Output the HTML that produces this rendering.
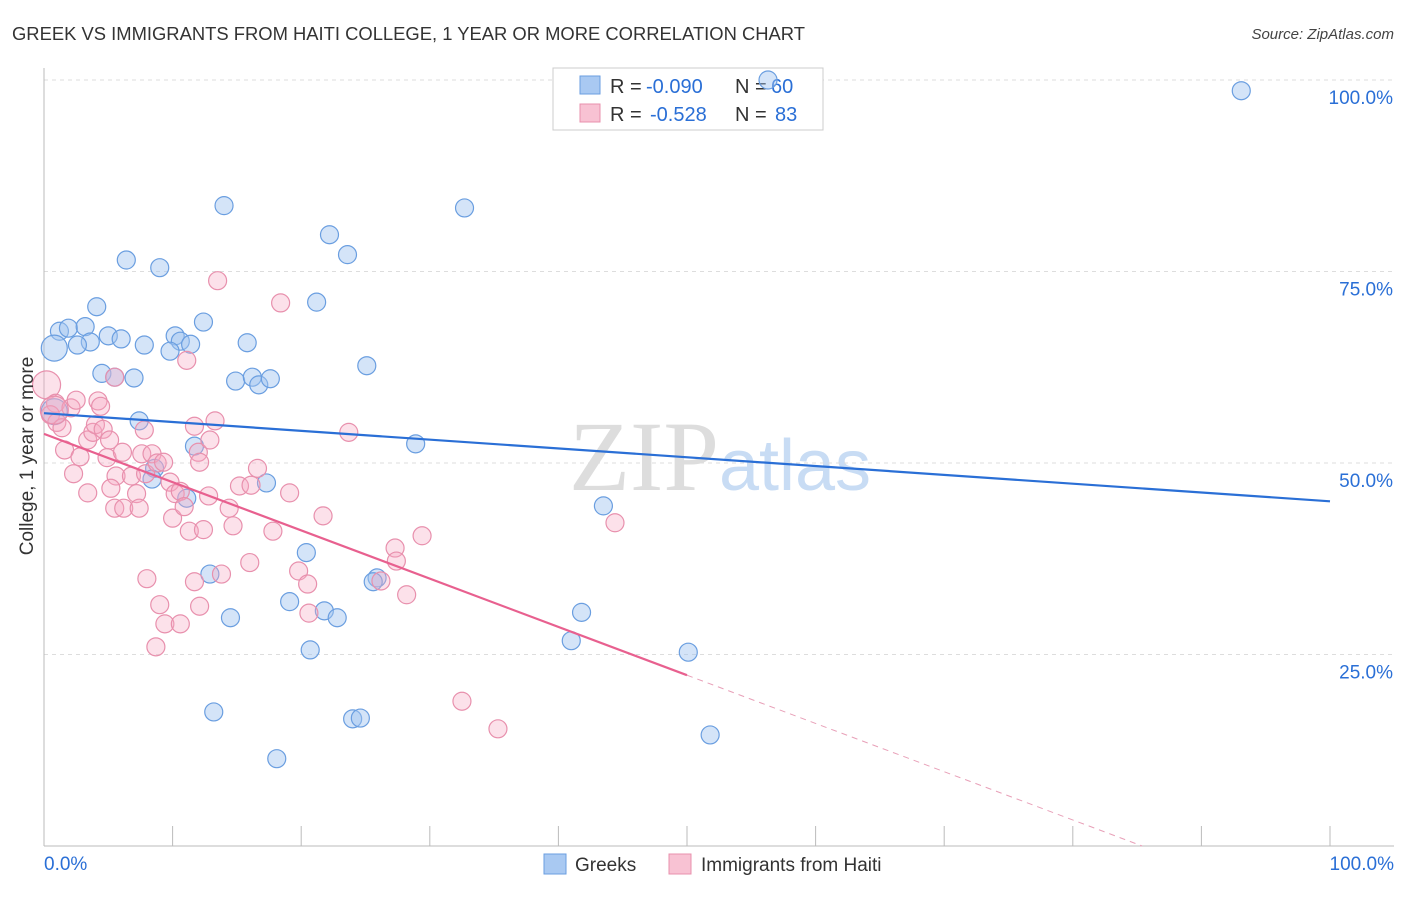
<!DOCTYPE html>
<html><head><meta charset="utf-8"><style>
body{margin:0;background:#fff;font-family:"Liberation Sans",sans-serif;}
</style></head><body>
<svg id="chart" width="1406" height="892" xmlns="http://www.w3.org/2000/svg" font-family="Liberation Sans, sans-serif">
<text x="12" y="40" font-size="18" fill="#333" textLength="793" lengthAdjust="spacingAndGlyphs">GREEK VS IMMIGRANTS FROM HAITI COLLEGE, 1 YEAR OR MORE CORRELATION CHART</text>
<text x="1394" y="39" font-size="15" fill="#444" text-anchor="end" font-style="italic">Source: ZipAtlas.com</text>
<text x="720" y="490" font-size="100" fill="#ddd" text-anchor="middle" font-family="Liberation Serif, serif">ZIP<tspan fill="#c8dcf4" font-family="Liberation Sans, sans-serif" font-size="72">atlas</tspan></text>
<g id="grid"></g><g id="axes"></g>
<g>
<rect x="553" y="68" width="270" height="62" fill="#fff" stroke="#ccc"/>
<rect x="580" y="76" width="20" height="18" fill="#a9c9f2" stroke="#6a9ee0"/>
<rect x="580" y="104" width="20" height="18" fill="#f8c2d3" stroke="#e890ad"/>
<text x="610" y="93" font-size="20" fill="#333">R =</text>
<text x="646" y="93" font-size="20" fill="#2a6fd6">-0.090</text>
<text x="735" y="93" font-size="20" fill="#333">N =</text>
<text x="771" y="93" font-size="20" fill="#2a6fd6">60</text>
<text x="610" y="121" font-size="20" fill="#333">R =</text>
<text x="650" y="121" font-size="20" fill="#2a6fd6">-0.528</text>
<text x="735" y="121" font-size="20" fill="#333">N =</text>
<text x="775" y="121" font-size="20" fill="#2a6fd6">83</text>
</g>
<g id="pts"></g><g id="lines"></g>
<text x="33" y="456" font-size="19" fill="#333" text-anchor="middle" transform="rotate(-90 33 456)">College, 1 year or more</text>
<g>
<rect x="544" y="854" width="22" height="20" fill="#a9c9f2" stroke="#6a9ee0"/>
<text x="575" y="871" font-size="19" fill="#333">Greeks</text>
<rect x="669" y="854" width="22" height="20" fill="#f8c2d3" stroke="#e890ad"/>
<text x="701" y="871" font-size="19" fill="#333">Immigrants from Haiti</text>
</g>
</svg>
<script>
const blueX=[56.3,93.1,14.0,32.7,22.2,23.6,6.4,9.0,4.1,21.2,12.4,1.2,1.9,3.2,5.0,6.0,3.6,2.6,0.8,7.8,10.2,10.6,11.4,9.8,15.8,25.1,4.5,7.0,5.5,14.9,16.2,16.7,17.6,7.4,0.8,11.7,28.9,8.6,8.4,11.1,17.3,43.5,20.4,12.9,25.9,25.6,19.1,21.8,22.8,14.5,41.8,41.0,20.7,50.1,13.2,24.0,24.6,51.8,18.1];
const blueY=[100,98.6,83.6,83.3,79.8,77.2,76.5,75.5,70.4,71.0,68.4,67.2,67.6,67.8,66.6,66.2,65.8,65.4,65.0,65.4,66.6,65.9,65.5,64.6,65.7,62.7,61.7,61.1,61.2,60.7,61.2,60.2,61.0,55.5,56.7,52.2,52.5,49.3,47.9,45.4,47.4,44.4,38.3,35.5,35.0,34.5,31.9,30.7,29.8,29.8,30.5,26.8,25.6,25.3,17.5,16.6,16.7,14.5,11.4];
const pinkX=[0.2,0.9,0.5,1.0,2.1,2.5,1.4,1.6,2.3,3.4,2.8,3.4,3.8,4.0,4.2,4.4,4.6,5.1,4.9,5.6,5.2,5.5,6.2,7.2,7.4,6.8,7.6,6.1,7.8,8.4,7.9,8.8,9.3,9.8,10.2,10.0,10.6,10.9,11.3,12.0,12.1,12.8,12.4,11.7,12.9,13.3,13.5,11.1,18.4,5.5,8.0,9.0,9.4,10.6,8.7,11.7,12.1,13.8,14.4,14.7,15.2,16.1,16.6,16.0,17.8,19.1,19.8,20.5,20.6,21.7,23.7,27.3,27.4,26.2,28.2,29.4,44.4,32.5,35.3,0.8];
const pinkY=[60.2,57.8,56.3,55.3,57.2,58.2,54.6,51.7,48.6,46.1,50.8,53.0,54.0,55.0,58.1,57.4,54.4,53.0,50.7,48.3,46.7,44.1,44.1,46.0,44.1,48.3,51.2,51.4,54.3,51.2,48.6,50.0,50.1,47.5,46.0,42.8,46.3,44.3,41.1,51.4,50.1,45.7,41.3,54.8,53.0,55.5,73.8,63.4,70.9,61.2,34.9,31.5,29.0,29.0,26.0,34.5,31.3,35.5,44.1,41.8,47.0,47.1,49.3,37.0,41.1,46.1,35.9,34.2,30.4,43.1,54.0,38.9,37.2,34.6,32.8,40.5,42.2,18.9,15.3,56.9];
const bigBlue=[18,34];const bigPink=[0,79];
const blueTrend=[56.5,45.0];const pinkTrend=[53.8,22.3];
const yTicks=[100,75,50,25];
const NS="http://www.w3.org/2000/svg";
const sx=v=>44+v*12.86, sy=v=>846-v*7.66;
function mk(tag,at,parent){const e=document.createElementNS(NS,tag);for(const k in at)e.setAttribute(k,at[k]);document.getElementById(parent).appendChild(e);return e;}
yTicks.forEach(t=>{
 const l=mk('line',{x1:44,x2:1394,y1:sy(t),y2:sy(t),stroke:'#ddd','stroke-dasharray':'4,4'},'grid');
 
 
 const tx=mk('text',{x:1393,y:sy(t)+24,'font-size':19,fill:'#2a6fd6','text-anchor':'end'},'grid');
 tx.textContent=t.toFixed(1)+'%';
 
 
});
mk('line',{x1:44,x2:44,y1:68,y2:846,stroke:'#bbb'},'axes');
mk('line',{x1:44,x2:1394,y1:846,y2:846,stroke:'#bbb'},'axes');
for(let i=0;i<=10;i++){const t=mk('line',{x1:sx(i*10),x2:sx(i*10),y1:826,y2:846,stroke:'#bbb'},'axes');
 
 }
const xl=mk('text',{x:44,y:870,'font-size':19,fill:'#2a6fd6'},'axes');xl.textContent='0.0%';


const xr=mk('text',{x:1394,y:870,'font-size':19,fill:'#2a6fd6','text-anchor':'end'},'axes');xr.textContent='100.0%';


blueX.forEach((x,i)=>{const c=mk('circle',{cx:sx(x),cy:sy(blueY[i]),r:bigBlue.includes(i)?13:9,fill:'rgba(160,196,240,0.45)',stroke:'#6a9ee0','stroke-width':1.2},'pts');
 
 });
pinkX.forEach((x,i)=>{const c=mk('circle',{cx:sx(x),cy:sy(pinkY[i]),r:bigPink.includes(i)?14:9,fill:'rgba(245,170,195,0.35)',stroke:'#e890ad','stroke-width':1.2},'pts');
 
 });
const bl=mk('line',{x1:sx(0),y1:sy(blueTrend[0]),x2:sx(100),y2:sy(blueTrend[1]),stroke:'#2a6fd6','stroke-width':2.2},'lines');


const ps=(pinkTrend[1]-pinkTrend[0])/50;const xz=-pinkTrend[0]/ps;
const pl=mk('line',{x1:sx(0),y1:sy(pinkTrend[0]),x2:sx(50),y2:sy(pinkTrend[1]),stroke:'#e8608f','stroke-width':2.2},'lines');


const pd=mk('line',{x1:sx(50),y1:sy(pinkTrend[1]),x2:sx(xz),y2:sy(0),stroke:'#e8a0b8','stroke-width':1,'stroke-dasharray':'6,5'},'lines');


</script>
</body></html>
